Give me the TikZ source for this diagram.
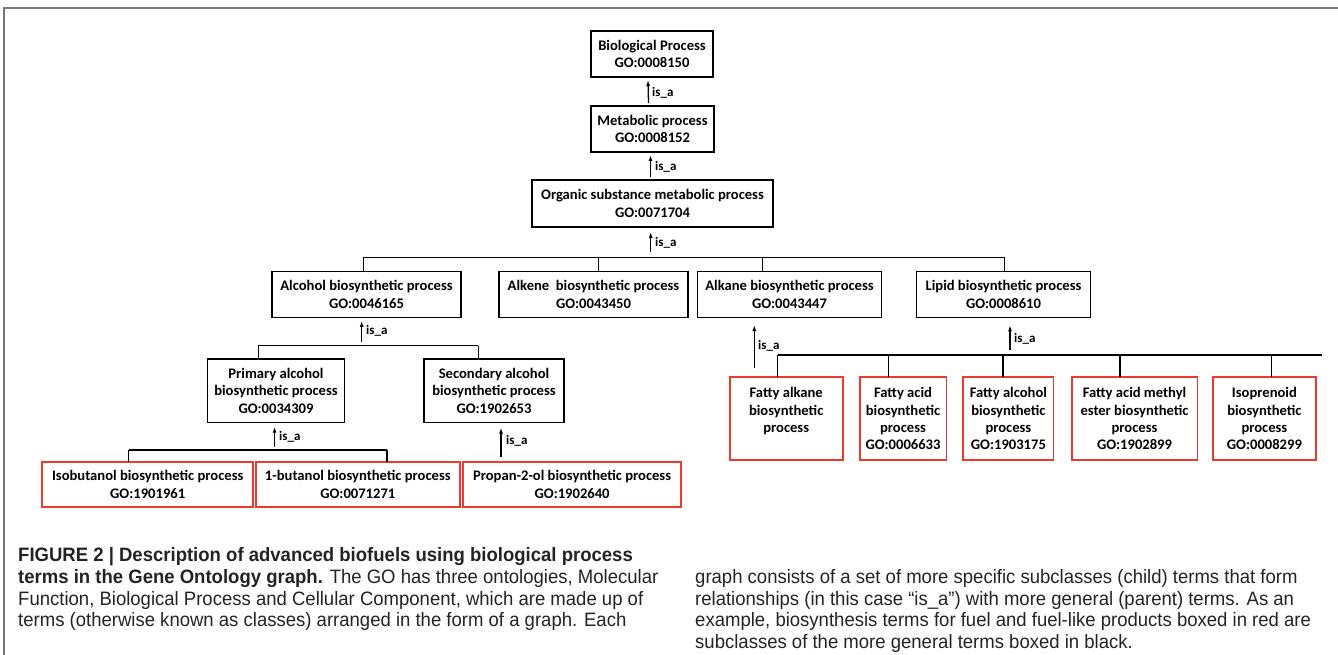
\documentclass[tikz,border=0pt]{standalone}
\usepackage{fontspec}
\usetikzlibrary{arrows.meta,calc}
\newfontfamily\boxfont{Carlito}
\newfontfamily\capfont{Liberation Sans}[FakeStretch=0.955]
\definecolor{gored}{RGB}{236,58,46}
\definecolor{framegray}{RGB}{120,120,120}
\definecolor{captext}{RGB}{35,35,35}

\begin{document}
\begin{tikzpicture}[x=1pt,y=-1pt,
  gobox/.style={draw=black, line width=1.4pt, align=center, inner sep=0pt, outer sep=0pt,
    font=\boxfont\bfseries\fontsize{14.6}{17.3}\selectfont},
  redbox/.style={gobox, draw=gored, line width=1.9pt},
  isa/.style={-{Latex[length=6pt,width=4pt]}, line width=1.3pt},
  link/.style={line width=1.3pt},
  isalabel/.style={anchor=west, inner sep=0pt, font=\boxfont\bfseries\fontsize{13}{15}\selectfont},
  capline/.style={anchor=base west, inner sep=0pt, text=captext,
    font=\capfont\fontsize{19.4}{22}\selectfont}
]
\useasboundingbox (0,0) rectangle (1338,655);

% figure frame (top and left rules)
\draw[framegray, line width=2pt] (1338,8.5) -- (4,8.5) -- (4,655);

% ---- ontology terms ----
\node[gobox, minimum width=122, minimum height=46] (bio) at (652,54) {Biological Process\\GO:0008150};
\node[gobox, minimum width=123, minimum height=46] (met) at (652.5,129) {Metabolic process\\GO:0008152};
\node[gobox, minimum width=241, minimum height=47] (org) at (652.5,203.5) {Organic substance metabolic process\\GO:0071704};

\node[gobox, minimum width=189, minimum height=45.6] (alc) at (366.5,294.5) {Alcohol biosynthetic process\\GO:0046165};
\node[gobox, minimum width=189, minimum height=45.6] (alke) at (593.5,294.5) {Alkene\ \ biosynthetic process\\GO:0043450};
\node[gobox, minimum width=184, minimum height=45.6] (alka) at (789.5,294.5) {Alkane biosynthetic process\\GO:0043447};
\node[gobox, minimum width=174, minimum height=45.6] (lip) at (1003.5,294.5) {Lipid biosynthetic process\\GO:0008610};

\node[gobox, minimum width=137.4, minimum height=63.7] (pri) at (276,390.8) {Primary alcohol\\biosynthetic process\\GO:0034309};
\node[gobox, minimum width=140, minimum height=63.7] (sec) at (494,390.8) {Secondary alcohol\\biosynthetic process\\GO:1902653};

\node[redbox, minimum width=210.6, minimum height=45.6] (isob) at (147.7,484.5) {Isobutanol biosynthetic process\\GO:1901961};
\node[redbox, minimum width=204, minimum height=45.6] (but) at (357.8,484.5) {1-butanol biosynthetic process\\GO:0071271};
\node[redbox, minimum width=217.4, minimum height=45.6] (prop) at (572.1,484.5) {Propan-2-ol biosynthetic process\\GO:1902640};

\node[redbox, minimum width=113.3, minimum height=82.7] (fak) at (786.2,418.7) {Fatty alkane\\biosynthetic\\process\\\mbox{}};
\node[redbox, minimum width=86.9, minimum height=82.7] (fac) at (903,418.7) {Fatty acid\\biosynthetic\\process\\GO:0006633};
\node[redbox, minimum width=90.2, minimum height=82.7] (fal) at (1008.4,418.7) {Fatty alcohol\\biosynthetic\\process\\GO:1903175};
\node[redbox, minimum width=125.9, minimum height=82.7] (fam) at (1134.5,418.7) {Fatty acid methyl\\ester biosynthetic\\process\\GO:1902899};
\node[redbox, minimum width=102.8, minimum height=82.7] (iso) at (1264.4,418.7) {Isoprenoid\\biosynthetic\\process\\GO:0008299};

% ---- trunk ----
\draw[isa] ($(met.north)+(-4,-3)$) -- ($(bio.south)+(-4,3)$);
\node[isalabel] (l1) at (652,93) {is\_a};
\draw[isa] ($(org.north)+(-2,-3)$) -- ($(met.south)+(-2,3)$);
\node[isalabel] (l2) at (655,167) {is\_a};

% ---- level under the organic substance term ----
\coordinate (b3) at (650.7,257.3);
\coordinate (b3a) at (363.3,257.3);
\coordinate (b3b) at (598.3,257.3);
\coordinate (b3c) at (762.7,257.3);
\coordinate (b3d) at (1004.4,257.3);
\draw[link] (b3a) -- (b3d);
\draw[link] (b3a) -- (b3a |- alc.north);
\draw[link] (b3b) -- (b3b |- alke.north);
\draw[link] (b3c) -- (b3c |- alka.north);
\draw[link] (b3d) -- (b3d |- lip.north);
\draw[isa] ($(b3)+(0,-5)$) -- ($(b3 |- org.south)+(0,5)$);
\node[isalabel] (l3) at (655,243) {is\_a};

% ---- alcohol branch ----
\coordinate (ba) at (361.7,345.7);
\coordinate (baL) at (258.3,345.7);
\coordinate (baR) at (478.3,345.7);
\draw[link] (baL) -- (baR);
\draw[link] (baL) -- (baL |- pri.north);
\draw[link] (baR) -- (baR |- sec.north);
\draw[isa] ($(ba)+(0,-4)$) -- ($(ba |- alc.south)+(0,3.5)$);
\node[isalabel] (l4) at (366,331) {is\_a};

\coordinate (bp) at (274.6,450);
\coordinate (bpL) at (128.6,450);
\coordinate (bpR) at (387,450);
\draw[link] (bpL) -- (bpR);
\draw[link] (bpL) -- (bpL |- isob.north);
\draw[link] (bpR) -- (bpR |- but.north);
\draw[isa] ($(bp)+(0,-3.5)$) -- ($(bp |- pri.south)+(0,4)$);
\node[isalabel] (l5) at (279,437) {is\_a};

\coordinate (sa) at (501,457);
\draw[isa] (sa) -- ($(sa |- sec.south)+(0,5)$);
\node[isalabel] (l6) at (506,441) {is\_a};

% ---- alkane and lipid branches ----
\coordinate (ka) at (754.3,368.3);
\draw[isa] (ka) -- ($(ka |- alka.south)+(0,7.7)$);
\node[isalabel] (l7) at (758,346) {is\_a};

\coordinate (bl) at (1010,355);
\coordinate (bl1) at (777.8,355);
\coordinate (bl2) at (888.6,355);
\coordinate (bl3) at (1003,355);
\coordinate (bl4) at (1120,355);
\coordinate (bl5) at (1271.7,355);
\coordinate (blE) at (1322,355);
\draw[link] (bl1) -- (blE);
\draw[link] (bl1) -- (bl1 |- fak.north);
\draw[link] (bl2) -- (bl2 |- fac.north);
\draw[link] (bl3) -- (bl3 |- fal.north);
\draw[link] (bl4) -- (bl4 |- fam.north);
\draw[link] (bl5) -- (bl5 |- iso.north);
\draw[isa] ($(bl)+(0,-5)$) -- ($(bl |- lip.south)+(0,8)$);
\node[isalabel] (l8) at (1014,339) {is\_a};

% ---- caption ----
\node[capline] (c1) at (18,561) {\textbf{FIGURE 2 | Description of advanced biofuels using biological process}};
\node[capline] (c2) at (18,583) {\textbf{terms in the Gene Ontology graph.} The GO has three ontologies, Molecular};
\node[capline] (c3) at (18,605) {Function, Biological Process and Cellular Component, which are made up of};
\node[capline] (c4) at (18,626) {terms (otherwise known as classes) arranged in the form of a graph. Each};
\node[capline] (c5) at (695,583) {graph consists of a set of more specific subclasses (child) terms that form};
\node[capline] (c6) at (695,605) {relationships (in this case “is\_a”) with more general (parent) terms. As an};
\node[capline] (c7) at (695,626) {example, biosynthesis terms for fuel and fuel-like products boxed in red are};
\node[capline] (c8) at (695,648) {subclasses of the more general terms boxed in black.};
\end{tikzpicture}
\end{document}
